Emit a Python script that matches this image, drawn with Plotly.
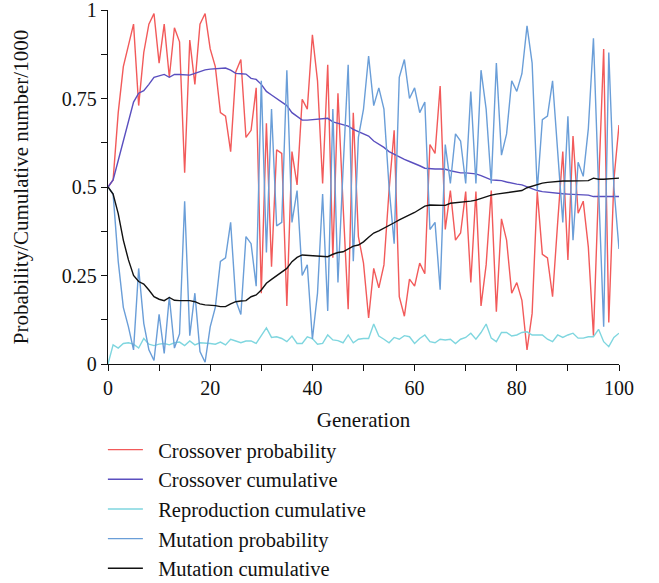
import plotly.graph_objects as go

generation = list(range(0, 101))

crossover_probability = [
    0.50, 0.52, 0.71, 0.84, 0.90, 0.96, 0.73, 0.88, 0.96, 0.99,
    0.85, 0.96, 0.81, 0.95, 0.91, 0.54, 0.915, 0.79, 0.96, 0.99,
    0.89, 0.84, 0.71, 0.70, 0.60, 0.825, 0.86, 0.64, 0.66, 0.78,
    0.20, 0.68, 0.275, 0.605, 0.595, 0.164, 0.60, 0.506, 0.748, 0.72,
    0.93, 0.80, 0.51, 0.845, 0.30, 0.765, 0.45, 0.155, 0.71, 0.36,
    0.285, 0.13, 0.27, 0.215, 0.28, 0.49, 0.66, 0.19, 0.135, 0.24,
    0.22, 0.285, 0.255, 0.62, 0.595, 0.785, 0.38, 0.49, 0.35, 0.37,
    0.487, 0.23, 0.487, 0.164, 0.28, 0.49, 0.148, 0.41, 0.35, 0.20,
    0.23, 0.18, 0.04, 0.143, 0.487, 0.31, 0.30, 0.19, 0.40, 0.60,
    0.294, 0.644, 0.426, 0.46, 0.33, 0.08, 0.50, 0.89, 0.117, 0.52,
    0.675,
]

crossover_cumulative = [
    0.50, 0.52, 0.575, 0.63, 0.69, 0.74, 0.765, 0.772, 0.79, 0.81,
    0.814, 0.818, 0.81, 0.818, 0.818, 0.818, 0.816, 0.821, 0.826, 0.831,
    0.833, 0.834, 0.834, 0.836, 0.83, 0.821, 0.82, 0.819, 0.807, 0.804,
    0.79, 0.77, 0.76, 0.75, 0.74, 0.73, 0.71, 0.70, 0.689, 0.689,
    0.690, 0.691, 0.692, 0.694, 0.684, 0.68, 0.675, 0.672, 0.663, 0.656,
    0.65, 0.644, 0.63, 0.622, 0.612, 0.60, 0.592, 0.586, 0.578, 0.572,
    0.567, 0.56, 0.553, 0.551, 0.551, 0.551, 0.55, 0.546, 0.543, 0.54,
    0.54, 0.539, 0.537, 0.532, 0.526, 0.52, 0.519, 0.518, 0.514, 0.51,
    0.508, 0.506, 0.50, 0.495, 0.49, 0.487, 0.485, 0.484, 0.482, 0.481,
    0.48, 0.479, 0.478, 0.478, 0.477, 0.473, 0.473, 0.473, 0.473, 0.473,
    0.473,
]

reproduction_cumulative = [
    0.0, 0.054, 0.045, 0.058, 0.06, 0.056, 0.045, 0.072, 0.056, 0.052,
    0.056, 0.058, 0.054, 0.06, 0.062, 0.052, 0.065, 0.054, 0.06, 0.06,
    0.058, 0.056, 0.062, 0.054, 0.07, 0.065, 0.06, 0.065, 0.065, 0.058,
    0.082, 0.102, 0.075, 0.077, 0.072, 0.063, 0.079, 0.058, 0.058, 0.077,
    0.072, 0.056, 0.058, 0.082, 0.068, 0.066, 0.06, 0.082, 0.06, 0.07,
    0.072, 0.072, 0.113, 0.079, 0.07, 0.06, 0.075, 0.07, 0.08, 0.077,
    0.058, 0.072, 0.082, 0.063, 0.06, 0.07, 0.068, 0.07, 0.058, 0.07,
    0.075, 0.087, 0.07, 0.089, 0.113, 0.073, 0.063, 0.089, 0.089, 0.079,
    0.082, 0.089, 0.091, 0.082, 0.082, 0.082, 0.07, 0.063, 0.082, 0.075,
    0.082, 0.087, 0.073, 0.073, 0.077, 0.077, 0.098, 0.063, 0.049, 0.075,
    0.087,
]

mutation_probability = [
    0.50, 0.48, 0.29, 0.16, 0.105, 0.04, 0.27, 0.115, 0.04, 0.01,
    0.14, 0.03, 0.19, 0.045, 0.085, 0.46, 0.08, 0.20, 0.035, 0.005,
    0.105, 0.16, 0.29, 0.30, 0.40, 0.18, 0.14, 0.36, 0.34, 0.22,
    0.80, 0.315, 0.72, 0.39, 0.40, 0.83, 0.40, 0.49, 0.25, 0.28,
    0.07, 0.20, 0.48, 0.15, 0.72, 0.23, 0.55, 0.845, 0.29, 0.64,
    0.72, 0.87, 0.73, 0.78, 0.72, 0.50, 0.34, 0.81, 0.86, 0.75,
    0.78, 0.71, 0.74, 0.38, 0.40, 0.21, 0.62, 0.51, 0.65, 0.63,
    0.51, 0.77, 0.51, 0.83, 0.72, 0.51, 0.85, 0.59, 0.65, 0.80,
    0.77, 0.82, 0.955, 0.85, 0.49, 0.69, 0.70, 0.80, 0.60, 0.40,
    0.70, 0.35, 0.57, 0.53, 0.665, 0.92, 0.50, 0.105, 0.88, 0.50,
    0.325,
]

mutation_cumulative = [
    0.50, 0.48, 0.425, 0.35, 0.294, 0.25, 0.233, 0.226, 0.209, 0.19,
    0.183, 0.179, 0.188, 0.18, 0.179, 0.18, 0.179, 0.176, 0.17, 0.167,
    0.167, 0.165, 0.162, 0.162, 0.17, 0.176, 0.178, 0.179, 0.19, 0.195,
    0.209, 0.228, 0.239, 0.249, 0.258, 0.27, 0.289, 0.301, 0.308, 0.307,
    0.305, 0.304, 0.303, 0.303, 0.31, 0.315, 0.317, 0.325, 0.333, 0.336,
    0.345, 0.358, 0.37, 0.376, 0.383, 0.392, 0.399, 0.407, 0.415, 0.421,
    0.428, 0.437, 0.446, 0.449, 0.449, 0.448, 0.448, 0.454, 0.455, 0.457,
    0.459, 0.46, 0.463, 0.468, 0.472, 0.477, 0.48, 0.482, 0.485, 0.487,
    0.489, 0.49, 0.498, 0.503, 0.508, 0.511, 0.513, 0.515, 0.516, 0.517,
    0.517, 0.517, 0.518, 0.518, 0.518, 0.525, 0.522, 0.522, 0.523, 0.524,
    0.525,
]

series = [
    ("Crossover probability", crossover_probability, "#f25a5a"),
    ("Crossover cumulative", crossover_cumulative, "#5a4fbf"),
    ("Reproduction cumulative", reproduction_cumulative, "#7fd6df"),
    ("Mutation probability", mutation_probability, "#6a9ed8"),
    ("Mutation cumulative", mutation_cumulative, "#111111"),
]

FONT = "Liberation Serif"

fig = go.Figure()
for i, (name, vals, color) in enumerate(series):
    fig.add_trace(go.Scatter(
        x=generation, y=vals, mode="lines", name="&nbsp;&nbsp;" + name,
        line=dict(color=color, width=1.4),
    ))

fig.update_layout(
    width=659, height=583,
    margin=dict(l=108, r=40, t=10, b=219, autoexpand=False),
    paper_bgcolor="white", plot_bgcolor="white",
    font=dict(family=FONT, size=20, color="#111111"),
    showlegend=True,
    legend=dict(
        x=-0.01, xanchor="left", y=-0.186, yanchor="top",
        font=dict(family=FONT, size=20.5, color="#111111"),
        itemwidth=35,
        bgcolor="rgba(0,0,0,0)",
    ),
)

fig.update_xaxes(
    range=[0, 100], dtick=20, tick0=0,
    showline=True, linecolor="#111111", linewidth=1.3,
    ticks="outside", ticklen=6, tickwidth=1.2, tickcolor="#111111",
    minor=dict(dtick=10, ticks="outside", ticklen=6, tickwidth=1.2, tickcolor="#111111"),
    showgrid=False, zeroline=False, ticklabeloverflow="allow",
    tickfont=dict(family=FONT, size=20),
    title=dict(text="Generation", font=dict(family=FONT, size=21), standoff=14),
)
fig.update_yaxes(
    range=[0, 1], dtick=0.25, tick0=0,
    showline=True, linecolor="#111111", linewidth=1.3,
    ticks="outside", ticklen=6, tickwidth=1.2, tickcolor="#111111",
    minor=dict(dtick=0.125, ticks="outside", ticklen=6, tickwidth=1.2, tickcolor="#111111"),
    showgrid=False, zeroline=False, ticklabeloverflow="allow",
    tickfont=dict(family=FONT, size=20),
    title=dict(text="Probability/Cumulative number/1000", font=dict(family=FONT, size=21), standoff=27),
)

fig.write_html("out.html")
